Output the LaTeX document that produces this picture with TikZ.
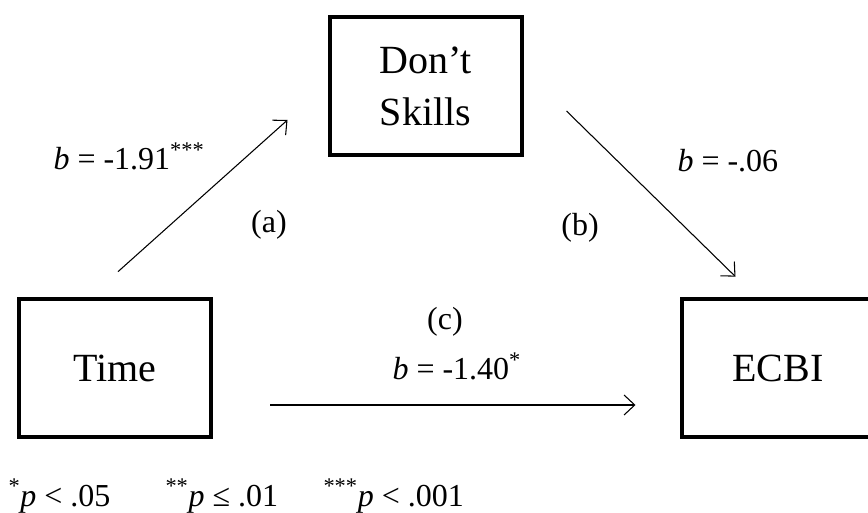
\documentclass[tikz,border=0pt]{standalone}
\usepackage{fontspec}
\setmainfont{Liberation Serif}
\usetikzlibrary{arrows.meta}
\tikzset{
  box/.style={draw, rectangle, line width=3pt, minimum width=144pt, minimum height=104pt, inner sep=0pt, font=\fontsize{30}{39}\selectfont, align=center},
  lbl/.style={font=\fontsize{24}{28}\selectfont, inner sep=0pt}
}
\begin{document}
\begin{tikzpicture}[x=0.75pt, y=-0.75pt, >={Straight Barb[length=8pt,width=15pt]}, line width=0.8pt]
\useasboundingbox (0,0) rectangle (868,513);
\node[box](T) at (115,368){Time};
\node[box](D) at (425.5,86){Don’t\\Skills};
\node[box](E) at (778,368){ECBI};
\draw[->]([shift={(3,-25)}]T.north)--([shift={(-40,34)}]D.west);
\draw[->]([shift={(43,25)}]D.east)--([shift={(-42.5,-20)}]E.north);
\draw[->]([shift={(57,37)}]T.east)--([shift={(-44.5,37)}]E.west);
\node[lbl, anchor=base west](la) at (53,170){\textit{b} = -1.91\textsuperscript{***}};
\node[lbl](pa) at (269,225){(a)};
\node[lbl, anchor=base west](lb) at (677,172){\textit{b} = -.06};
\node[lbl](pb) at (580,228){(b)};
\node[lbl](pc) at (445,322){(c)};
\node[lbl, anchor=base west](lc) at (392,380){\textit{b} = -1.40\textsuperscript{*}};
\node[lbl, anchor=base west](n1) at (8,506){\textsuperscript{*}\textit{p} < .05};
\node[lbl, anchor=base west](n2) at (165,506){\textsuperscript{**}\textit{p} ≤ .01};
\node[lbl, anchor=base west](n3) at (323,506){\textsuperscript{***}\textit{p} < .001};
\end{tikzpicture}
\end{document}
